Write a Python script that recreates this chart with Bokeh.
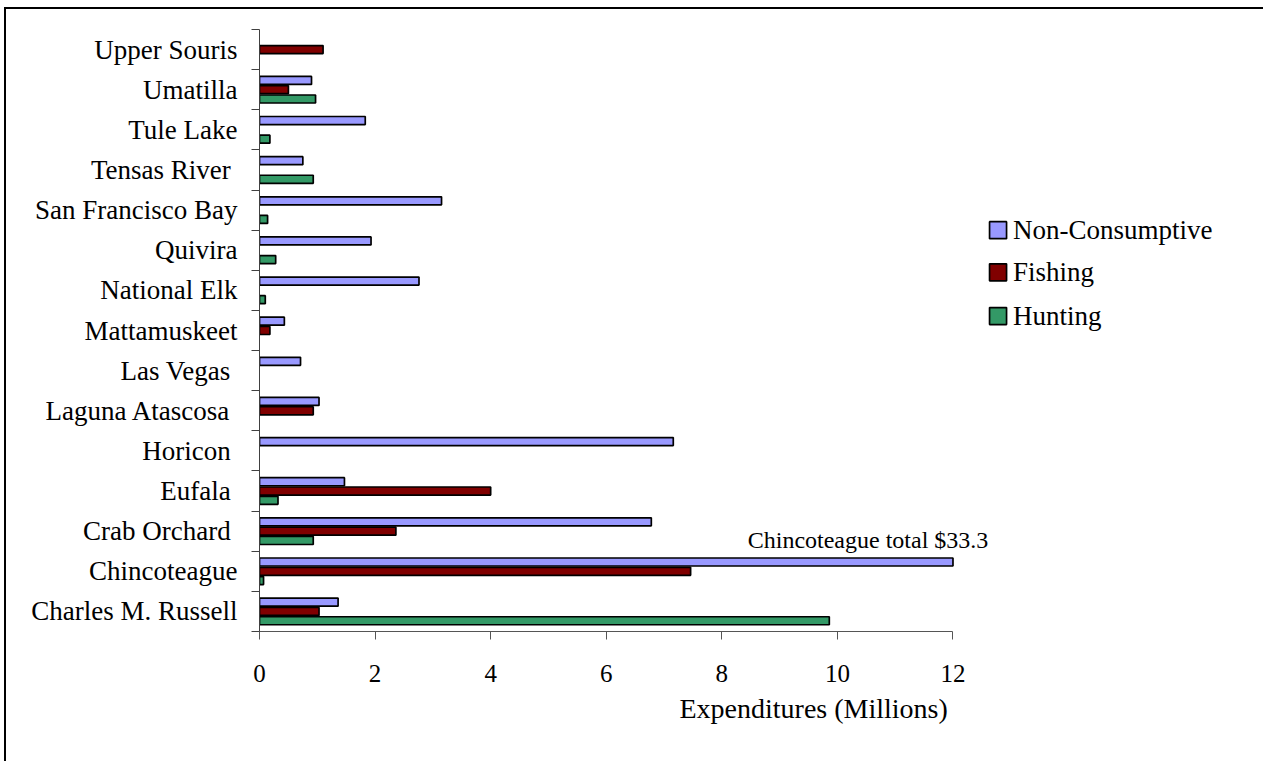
from bokeh.plotting import figure
from bokeh.models import Range1d, FixedTicker, Label, Title
from bokeh.embed import file_html
from bokeh.resources import INLINE
from bokeh.core.properties import value

# Refuges, bottom to top as they appear on the category axis
refuges = [
    "Charles M. Russell", "Chincoteague", "Crab Orchard ", "Eufala ", "Horicon ",
    "Laguna Atascosa ", "Las Vegas ", "Mattamuskeet", "National Elk", "Quivira",
    "San Francisco Bay", "Tensas River ", "Tule Lake", "Umatilla", "Upper Souris",
]

# Visitor expenditures, millions of dollars (0 = no expenditure reported)
non_consumptive = [1.36, 25.77, 6.78, 1.47, 7.16, 1.03, 0.71, 0.43, 2.76, 1.93, 3.15, 0.75, 1.83, 0.90, 0.0]
fishing = [1.03, 7.46, 2.36, 4.00, 0.0, 0.93, 0.0, 0.18, 0.0, 0.0, 0.0, 0.0, 0.0, 0.50, 1.10]
hunting = [9.86, 0.07, 0.93, 0.32, 0.0, 0.0, 0.0, 0.0, 0.10, 0.28, 0.14, 0.93, 0.18, 0.97, 0.0]

series_names = ["Non-Consumptive", "Fishing", "Hunting"]
series_colors = ["#9999FF", "#800000", "#339966"]

x_ticks = [0, 2, 4, 6, 8, 10, 12]
AXIS_MAX = 12
chincoteague_total = 33.3

FONT = "Liberation Serif"
PX_PER_UNIT = 57.79
FRAME_W = 1006

p = figure(
    width=1259, height=754,
    x_range=Range1d(0, FRAME_W / PX_PER_UNIT), y_range=Range1d(0, len(refuges)),
    output_backend="svg", toolbar_location=None,
    min_border_left=253, min_border_right=0, min_border_top=20, min_border_bottom=132,
)
p.margin = (7, 0, 0, 4)
p.styles = {"border-left": "2px solid #000000", "border-top": "2px solid #000000"}
p.grid.visible = False
p.outline_line_color = None
p.background_fill_color = "white"
p.border_fill_color = "white"

# value axis
xa = p.xaxis[0]
xa.ticker = FixedTicker(ticks=x_ticks)
xa.bounds = (0, AXIS_MAX)
xa.axis_line_color = "#555555"
xa.major_tick_line_color = "#555555"
xa.major_tick_out = 8
xa.major_tick_in = 0
xa.minor_tick_line_color = None
xa.major_label_text_font = FONT
xa.major_label_text_font_size = "25px"
xa.major_label_text_color = "black"
xa.major_label_standoff = 25

# value axis title, set under the right-hand part of the axis
p.add_layout(Title(text="Expenditures (Millions)", align="left", offset=420,
                   text_font=FONT, text_font_size="28px", text_font_style="normal",
                   text_color="black", standoff=12), "below")

# category axis: ticks between categories, names centred in each band
ya = p.yaxis[0]
centers = [i + 0.5 for i in range(len(refuges))]
ya.ticker = FixedTicker(ticks=centers, minor_ticks=list(range(len(refuges) + 1)))
ya.major_label_overrides = {c: name for c, name in zip(centers, refuges)}
ya.axis_line_color = "#404040"
ya.major_tick_line_color = None
ya.major_tick_out = 0
ya.major_tick_in = 0
ya.minor_tick_line_color = "#404040"
ya.minor_tick_out = 8
ya.minor_tick_in = 0
ya.major_label_text_font = FONT
ya.major_label_text_font_size = "27px"
ya.major_label_text_color = "black"
ya.major_label_standoff = 14

# clustered horizontal bars
BAR_H = 0.2
OFFSETS = [0.232, 0.0, -0.232]
for vals, color, off in zip([non_consumptive, fishing, hunting], series_colors, OFFSETS):
    ys = [c + off for c, v in zip(centers, vals) if v > 0]
    rights = [min(v, AXIS_MAX) for v in vals if v > 0]
    p.hbar(y=ys, left=0, right=rights, height=BAR_H,
           fill_color=color, line_color="black", line_width=1.7)

# legend
leg_y = [10.0, 8.95, 7.86]
p.scatter(x=[12.78] * 3, y=leg_y, marker="square", size=17,
          fill_color=series_colors, line_color="black", line_width=1.7)
p.text(x=[13.04] * 3, y=leg_y, text=series_names, text_font=value(FONT),
       text_font_size="27px", text_baseline="middle", text_align="left", text_color="black")

# note for the bar that runs past the axis maximum
p.add_layout(Label(x=10.53, y=2.29, text=f"Chincoteague total ${chincoteague_total}",
                   text_font=FONT, text_font_size="24px", text_align="center",
                   text_baseline="alphabetic", text_color="black"))

open("out.html", "w").write(file_html(p, INLINE))
